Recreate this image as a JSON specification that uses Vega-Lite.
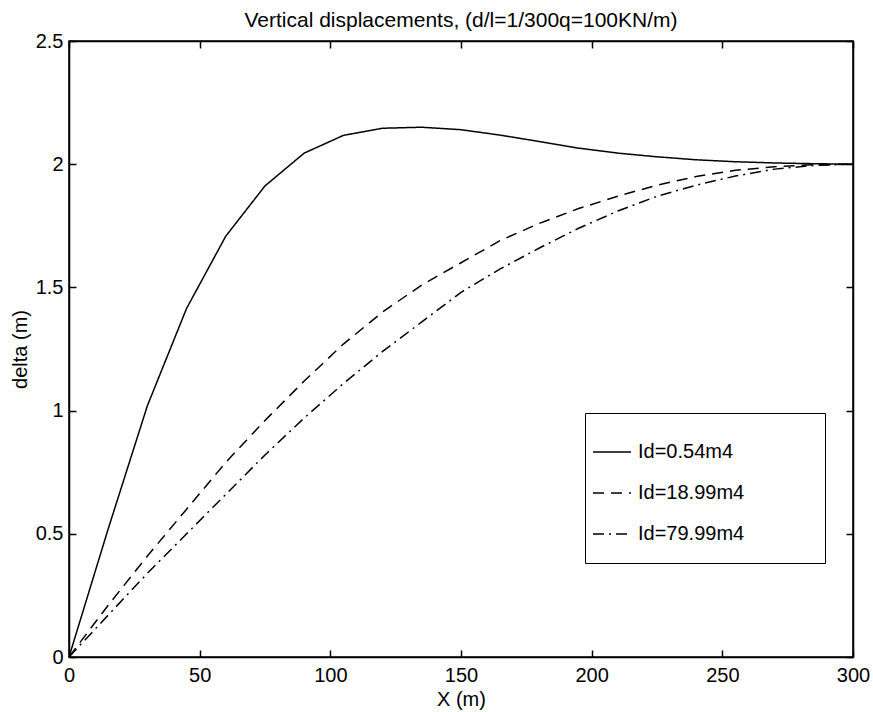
{
  "$schema": "https://vega.github.io/schema/vega-lite/v6.json",
  "width": 784,
  "height": 616,
  "autosize": {"type": "none"},
  "padding": {"left": 69, "top": 41, "right": 20, "bottom": 55},
  "background": "white",
  "title": {
    "text": "Vertical displacements, (d/l=1/300q=100KN/m)",
    "font": "Liberation Sans",
    "fontSize": 21,
    "fontWeight": "normal",
    "color": "black",
    "offset": 0
  },
  "config": {
    "view": {"stroke": "black", "strokeWidth": 1.5},
    "font": "Liberation Sans",
    "axis": {
      "labelFont": "Liberation Sans",
      "labelFontSize": 20,
      "labelColor": "black",
      "titleFont": "Liberation Sans",
      "titleFontSize": 20,
      "titleFontWeight": "normal",
      "titleColor": "black",
      "domainColor": "black",
      "domainWidth": 1.5,
      "tickColor": "black",
      "tickWidth": 1.5,
      "tickSize": -7,
      "grid": false
    }
  },
  "data": {
    "values": [
      {"x": 0, "y": 0, "s": "Id=0.54m4"},
      {"x": 15, "y": 0.52, "s": "Id=0.54m4"},
      {"x": 30, "y": 1.02, "s": "Id=0.54m4"},
      {"x": 45, "y": 1.415, "s": "Id=0.54m4"},
      {"x": 60, "y": 1.708, "s": "Id=0.54m4"},
      {"x": 75, "y": 1.912, "s": "Id=0.54m4"},
      {"x": 90, "y": 2.045, "s": "Id=0.54m4"},
      {"x": 105, "y": 2.117, "s": "Id=0.54m4"},
      {"x": 120, "y": 2.146, "s": "Id=0.54m4"},
      {"x": 135, "y": 2.15, "s": "Id=0.54m4"},
      {"x": 150, "y": 2.14, "s": "Id=0.54m4"},
      {"x": 165, "y": 2.118, "s": "Id=0.54m4"},
      {"x": 180, "y": 2.092, "s": "Id=0.54m4"},
      {"x": 195, "y": 2.065, "s": "Id=0.54m4"},
      {"x": 210, "y": 2.045, "s": "Id=0.54m4"},
      {"x": 225, "y": 2.03, "s": "Id=0.54m4"},
      {"x": 240, "y": 2.018, "s": "Id=0.54m4"},
      {"x": 255, "y": 2.01, "s": "Id=0.54m4"},
      {"x": 270, "y": 2.005, "s": "Id=0.54m4"},
      {"x": 285, "y": 2.002, "s": "Id=0.54m4"},
      {"x": 300, "y": 2.0, "s": "Id=0.54m4"},
      {"x": 0, "y": 0, "s": "Id=18.99m4"},
      {"x": 15, "y": 0.21, "s": "Id=18.99m4"},
      {"x": 30, "y": 0.41, "s": "Id=18.99m4"},
      {"x": 45, "y": 0.6, "s": "Id=18.99m4"},
      {"x": 60, "y": 0.79, "s": "Id=18.99m4"},
      {"x": 75, "y": 0.96, "s": "Id=18.99m4"},
      {"x": 90, "y": 1.12, "s": "Id=18.99m4"},
      {"x": 105, "y": 1.27, "s": "Id=18.99m4"},
      {"x": 120, "y": 1.4, "s": "Id=18.99m4"},
      {"x": 135, "y": 1.51, "s": "Id=18.99m4"},
      {"x": 150, "y": 1.6, "s": "Id=18.99m4"},
      {"x": 165, "y": 1.69, "s": "Id=18.99m4"},
      {"x": 180, "y": 1.76, "s": "Id=18.99m4"},
      {"x": 195, "y": 1.82, "s": "Id=18.99m4"},
      {"x": 210, "y": 1.87, "s": "Id=18.99m4"},
      {"x": 225, "y": 1.915, "s": "Id=18.99m4"},
      {"x": 240, "y": 1.95, "s": "Id=18.99m4"},
      {"x": 255, "y": 1.975, "s": "Id=18.99m4"},
      {"x": 270, "y": 1.99, "s": "Id=18.99m4"},
      {"x": 285, "y": 1.998, "s": "Id=18.99m4"},
      {"x": 300, "y": 2.0, "s": "Id=18.99m4"},
      {"x": 0, "y": 0, "s": "Id=79.99m4"},
      {"x": 15, "y": 0.17, "s": "Id=79.99m4"},
      {"x": 30, "y": 0.34, "s": "Id=79.99m4"},
      {"x": 45, "y": 0.5, "s": "Id=79.99m4"},
      {"x": 60, "y": 0.66, "s": "Id=79.99m4"},
      {"x": 75, "y": 0.82, "s": "Id=79.99m4"},
      {"x": 90, "y": 0.97, "s": "Id=79.99m4"},
      {"x": 105, "y": 1.11, "s": "Id=79.99m4"},
      {"x": 120, "y": 1.24, "s": "Id=79.99m4"},
      {"x": 135, "y": 1.36, "s": "Id=79.99m4"},
      {"x": 150, "y": 1.48, "s": "Id=79.99m4"},
      {"x": 165, "y": 1.575, "s": "Id=79.99m4"},
      {"x": 180, "y": 1.66, "s": "Id=79.99m4"},
      {"x": 195, "y": 1.74, "s": "Id=79.99m4"},
      {"x": 210, "y": 1.81, "s": "Id=79.99m4"},
      {"x": 225, "y": 1.87, "s": "Id=79.99m4"},
      {"x": 240, "y": 1.915, "s": "Id=79.99m4"},
      {"x": 255, "y": 1.952, "s": "Id=79.99m4"},
      {"x": 270, "y": 1.98, "s": "Id=79.99m4"},
      {"x": 285, "y": 1.995, "s": "Id=79.99m4"},
      {"x": 300, "y": 2.0, "s": "Id=79.99m4"}
    ]
  },
  "layer": [
    {
      "mark": {"type": "line", "color": "black", "strokeWidth": 1.5, "clip": true},
      "encoding": {
        "x": {
          "field": "x", "type": "quantitative",
          "scale": {"domain": [0, 300], "nice": false, "zero": false},
          "axis": {"values": [0, 50, 100, 150, 200, 250, 300], "title": "X (m)", "labelPadding": 15, "titlePadding": 4, "labelFlush": false, "labelOverlap": false}
        },
        "y": {
          "field": "y", "type": "quantitative",
          "scale": {"domain": [0, 2.5], "nice": false, "zero": false},
          "axis": {"values": [0, 0.5, 1, 1.5, 2, 2.5], "format": "~f", "title": "delta (m)", "labelPadding": 13, "titlePadding": 5, "labelFlush": false, "labelOverlap": false}
        },
        "strokeDash": {
          "field": "s", "type": "nominal",
          "scale": {"domain": ["Id=0.54m4", "Id=18.99m4", "Id=79.99m4"], "range": [[1, 0], [11, 7], [11, 5, 2, 5]]},
          "legend": {
            "orient": "none",
            "legendX": 516,
            "legendY": 372,
            "title": null,
            "padding": 19,
            "symbolOffset": -12,
            "strokeColor": "black",
            "fillColor": "white",
            "symbolType": "M-1,0H1M10.05,0",
            "symbolSize": 1444,
            "symbolStrokeWidth": 1.5,
            "symbolStrokeColor": "black",
            "symbolFillColor": "transparent",
            "labelFont": "Liberation Sans",
            "labelFontSize": 20,
            "labelColor": "black",
            "labelOffset": 6,
            "labelLimit": 400,
            "rowPadding": 11
          }
        }
      }
    },
    {
      "mark": {"type": "line", "opacity": 0},
      "encoding": {
        "x": {
          "field": "x", "type": "quantitative",
          "axis": {"orient": "top", "values": [0, 50, 100, 150, 200, 250, 300], "labels": false, "title": null}
        },
        "y": {
          "field": "y", "type": "quantitative",
          "axis": {"orient": "right", "values": [0, 0.5, 1, 1.5, 2, 2.5], "labels": false, "title": null}
        },
        "detail": {"field": "s"}
      }
    }
  ],
  "resolve": {"axis": {"x": "independent", "y": "independent"}}
}
